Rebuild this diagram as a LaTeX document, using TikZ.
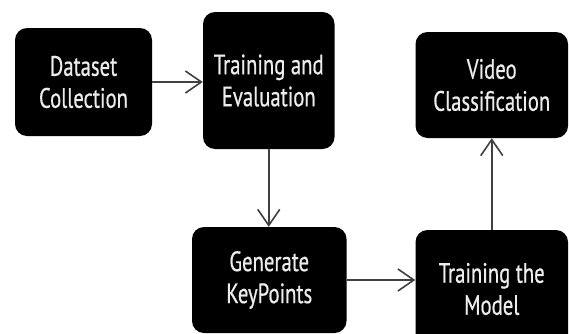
\documentclass[tikz,border=0pt]{standalone}
\usepackage{fontspec}
\setmainfont{PT Sans}[FakeStretch=0.74, FakeBold=0.6]
\usetikzlibrary{arrows.meta}
\definecolor{Boxblack}{RGB}{0,0,0}
\definecolor{Arrowgrey}{RGB}{64,64,64}
\definecolor{Textwhite}{RGB}{236,236,236}

\tikzset{
  stagebox/.style={fill=Boxblack, rounded corners=12pt, text=Textwhite, align=center,
    font=\fontsize{28}{32}\selectfont, inner sep=0pt},
  flowarrow/.style={draw=Arrowgrey, line width=1.6pt,
    -{Straight Barb[length=16pt, width=22pt, line width=1.6pt]}}
}

\begin{document}
\begin{tikzpicture}[x=1pt, y=1pt]
      \useasboundingbox (0,0) rectangle (569,333);
      \clip (0,0) rectangle (569,333);
      % stages of the pipeline
      \node[stagebox, minimum width=137pt, minimum height=108pt] (dc) at (83.5,251) {Dataset\\Collection};
      \node[stagebox, minimum width=131.5pt, minimum height=137pt] (te) at (268.75,252.5) {Training and\\Evaluation};
      \node[stagebox, minimum width=152.5pt, minimum height=106pt] (vc) at (491.75,248) {Video\\Classification};
      \node[stagebox, minimum width=154.5pt, minimum height=106pt] (gk) at (269.25,53) {Generate\\KeyPoints};
      \node[stagebox, minimum width=152.5pt, minimum height=118pt] (tm) at (491.75,44) {Training the\\Model};
      % connectors
      \draw[flowarrow] (dc.east) -- (dc.east -| te.west);
      \draw[flowarrow] (te.south) -- (te.south |- gk.north);
      \draw[flowarrow] (gk.east) -- (gk.east -| tm.west);
      \draw[flowarrow] (tm.north) -- (tm.north |- vc.south);
\end{tikzpicture}
\end{document}
